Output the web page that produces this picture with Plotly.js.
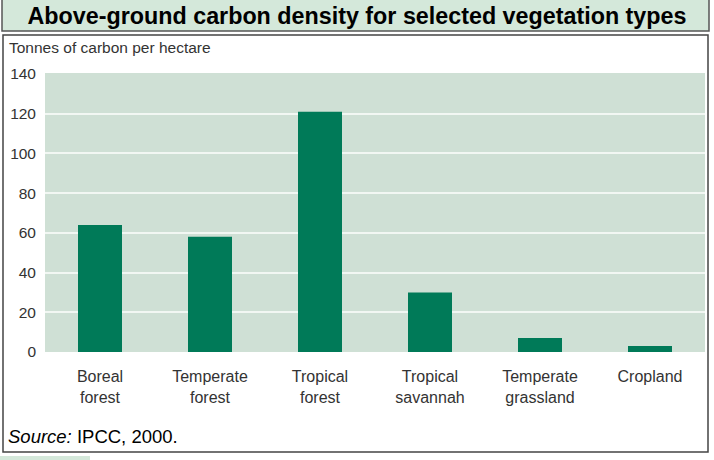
<!DOCTYPE html>
<html>
<head>
<meta charset="utf-8">
<script src="https://cdn.plot.ly/plotly-3.0.1.min.js"></script>
<style>
html, body { margin: 0; padding: 0; background: #ffffff; }
#chart { width: 714px; height: 460px; }
</style>
</head>
<body>
<div id="chart"></div>
<script>
// vegetation types (two-line tick labels)
let categories = ["Boreal<br>forest", "Temperate<br>forest", "Tropical<br>forest",
  "Tropical<br>savannah", "Temperate<br>grassland", "Cropland"];
// tonnes of carbon per hectare
let carbon = [64, 58, 121, 30, 7, 3];
let yTicks = [0, 20, 40, 60, 80, 100, 120, 140];

let trace = {
  type: "bar",
  x: categories,
  y: carbon,
  marker: { color: "#007a58" },
  width: 0.4,
  hoverinfo: "x+y"
};

// plot area is 660 x 279 px; helpers turn pixel offsets into paper units
let px = function (x) { return (x - 45) / 660; };
let py = function (y) { return (352 - y) / 279; };

let layout = {
  width: 714,
  height: 460,
  margin: { l: 45, r: 9, t: 73, b: 108 },
  paper_bgcolor: "#ffffff",
  plot_bgcolor: "#cfe0d5",
  showlegend: false,
  font: { family: "Liberation Sans, Arial, sans-serif", color: "#333333" },
  title: {
    text: "<b>Above-ground carbon density for selected vegetation types</b>",
    font: { family: "Liberation Sans, Arial, sans-serif", size: 23.3, color: "#000000" },
    x: 357 / 714, xanchor: "center", xref: "container",
    y: 444 / 460, yanchor: "middle", yref: "container"
  },
  xaxis: {
    type: "category",
    showgrid: false,
    zeroline: false,
    showline: false,
    ticks: "",
    tickfont: { size: 16, color: "#333333" },
    ticklabelstandoff: 13
  },
  yaxis: {
    range: [0, 140.5],
    tickvals: yTicks,
    ticktext: yTicks.map(String),
    showgrid: true,
    gridcolor: "#f2f7f3",
    gridwidth: 2,
    zeroline: false,
    showline: false,
    ticks: "",
    tickfont: { size: 15.5, color: "#333333" },
    ticklabelstandoff: 8
  },
  shapes: [
    // title band
    { type: "rect", xref: "paper", yref: "paper", layer: "below",
      x0: px(2), x1: px(709), y0: py(31), y1: py(-1),
      fillcolor: "#d4e8da", line: { color: "#555555", width: 1.5 } },
    // main frame
    { type: "rect", xref: "paper", yref: "paper", layer: "below",
      x0: px(3), x1: px(708), y0: py(452), y1: py(35),
      fillcolor: "rgba(0,0,0,0)", line: { color: "#444444", width: 1.5 } },
    // strip below frame
    { type: "rect", xref: "paper", yref: "paper", layer: "below",
      x0: px(0), x1: px(90), y0: py(461), y1: py(456),
      fillcolor: "#d4e8da", line: { width: 0 } }
  ],
  annotations: [
    { text: "Tonnes of carbon per hectare", xref: "paper", yref: "paper",
      x: px(7), y: py(48), xanchor: "left", yanchor: "middle",
      showarrow: false, font: { size: 15.5, color: "#333333" } },
    { text: "<i>Source:</i> IPCC, 2000.", xref: "paper", yref: "paper",
      x: px(6), y: py(437), xanchor: "left", yanchor: "middle",
      showarrow: false, font: { size: 18.5, color: "#000000" } }
  ]
};

Plotly.newPlot("chart", [trace], layout, { displayModeBar: false, staticPlot: true });
</script>
</body>
</html>
